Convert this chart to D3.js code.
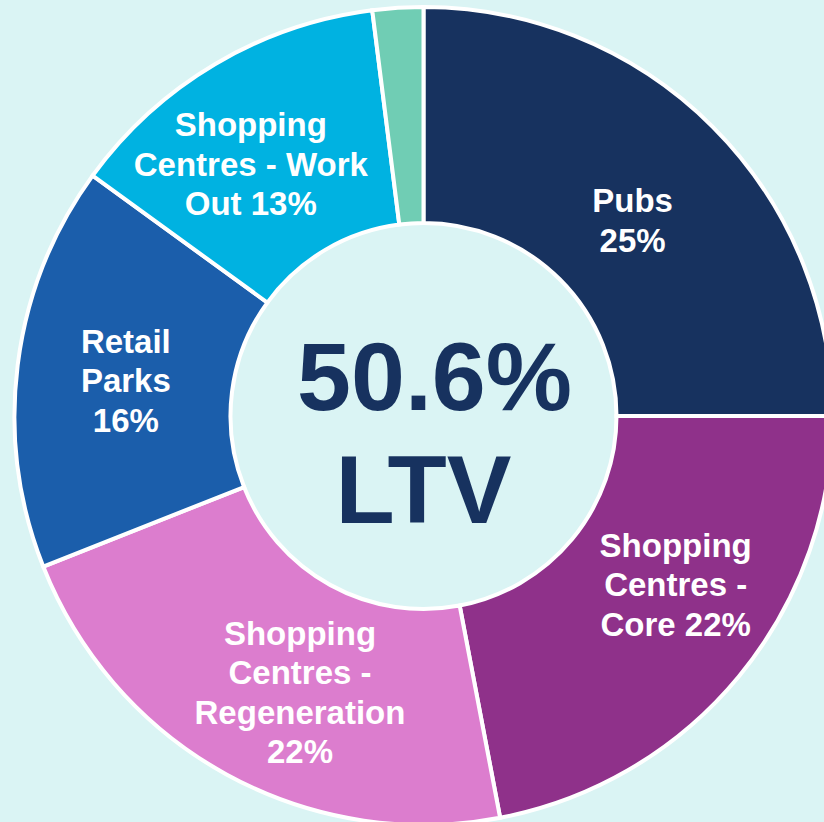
<!DOCTYPE html>
<html>
<head>
<meta charset="utf-8">
<script src="https://cdn.jsdelivr.net/npm/d3@7"></script>
<style>
  body { margin: 0; background: #daf4f4; }
  svg { display: block; }
</style>
</head>
<body>
<script>
// segments of the portfolio, clockwise from 12 o'clock
const categories = ["Pubs", "Shopping Centres - Core", "Shopping Centres - Regeneration", "Retail Parks", "Shopping Centres - Work Out", "Other"]
const shares = [25, 22, 22, 16, 13, 2]
const labelLines = [
  ["Pubs", "25%"],
  ["Shopping", "Centres -", "Core 22%"],
  ["Shopping", "Centres -", "Regeneration", "22%"],
  ["Retail", "Parks", "16%"],
  ["Shopping", "Centres - Work", "Out 13%"],
  []
]
const colours = ["#17325f", "#8f318a", "#dc7dce", "#1b5eab", "#00b2e1", "#70cdb4"]
const centreLines = ["50.6%", "LTV"]

const width = 824, height = 822
const cx = 423.5, cy = 416
const outerR = 409, innerR = 193
const font = "Arial, 'Liberation Sans', Helvetica, sans-serif"

const svg = d3.select("body").append("svg")
  .attr("width", width)
  .attr("height", height)

svg.append("rect").attr("width", width).attr("height", height).attr("fill", "#daf4f4")

const g = svg.append("g").attr("transform", "translate(" + cx + "," + cy + ")")

const data = categories.map((c, i) => ({ name: c, value: shares[i], lines: labelLines[i], colour: colours[i] }))

const pie = d3.pie().sort(null).value(d => d.value)
const arc = d3.arc().innerRadius(innerR).outerRadius(outerR)
const labelArc = d3.arc().innerRadius(300).outerRadius(300)

const slices = pie(data)

g.selectAll("path.slice")
  .data(slices)
  .enter().append("path")
  .attr("class", "slice")
  .attr("d", arc)
  .attr("fill", d => d.data.colour)
  .attr("stroke", "#fff")
  .attr("stroke-width", 4)
  .attr("stroke-linejoin", "miter")

// small hand nudges so labels sit where they do in the original
const nudge = [[-3, 16], [21, -23], [21, 13], [0, 2], [-20, 6], [0, 0]]
const lineH = 39.5

const labels = g.selectAll("text.label")
  .data(slices)
  .enter().append("text")
  .attr("class", "label")
  .attr("text-anchor", "middle")
  .attr("fill", "#fff")
  .style("font-family", font)
  .style("font-weight", "bold")
  .style("font-size", "33px")
  .attr("transform", (d, i) => {
    const c = labelArc.centroid(d)
    return "translate(" + (c[0] + nudge[i][0]) + "," + (c[1] + nudge[i][1]) + ")"
  })

labels.each(function(d) {
  const lines = d.data.lines
  const offset = -(lines.length - 1) / 2 * lineH + 12
  d3.select(this).selectAll("tspan")
    .data(lines)
    .enter().append("tspan")
    .attr("x", 0)
    .attr("y", (l, j) => offset + j * lineH)
    .text(l => l)
})

// centre text (first line sits a little right of centre in the original)
g.append("text")
  .attr("text-anchor", "middle")
  .attr("fill", "#17325f")
  .style("font-family", font)
  .style("font-weight", "bold")
  .style("font-size", "97px")
  .selectAll("tspan")
  .data(centreLines)
  .enter().append("tspan")
  .attr("x", (d, i) => i === 0 ? 11 : 0)
  .attr("y", (d, i) => -6 + i * 113)
  .text(d => d)
</script>
</body>
</html>
